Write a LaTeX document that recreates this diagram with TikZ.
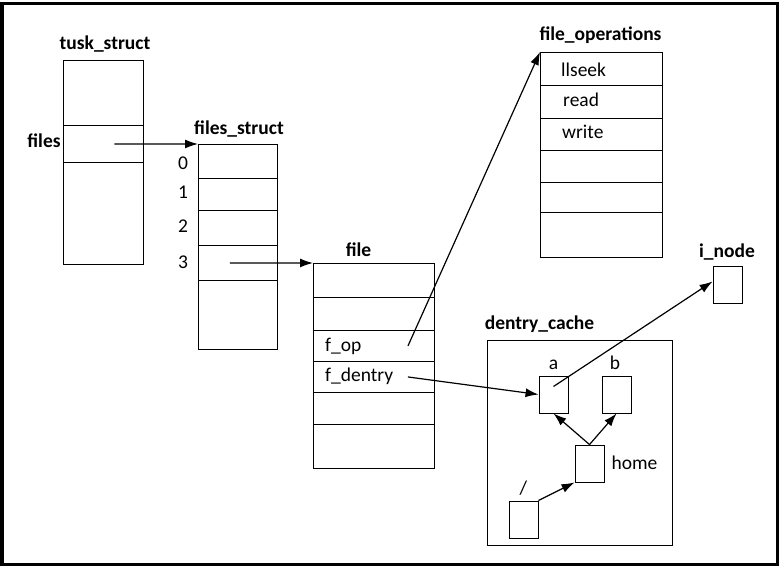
\documentclass[tikz,border=0pt]{standalone}
\usepackage{fontspec}
\setmainfont{Carlito}
\usetikzlibrary{arrows.meta}
\tikzset{
  cell/.style={draw, line width=0.9pt, anchor=north west, inner sep=0pt},
  box/.style={draw, line width=0.9pt, inner sep=0pt, minimum width=29, minimum height=37},
  lbl/.style={font=\fontsize{19.5}{22}\selectfont\bfseries, anchor=base, inner sep=0pt},
  tag/.style={anchor=base, inner sep=0pt},
  txt/.style={anchor=base west, inner sep=0pt},
  ptr/.style={line width=1.2pt, -{Latex[length=13pt,width=9pt]}}
}
\begin{document}
\begin{tikzpicture}[x=1pt, y=-1pt, font=\fontsize{19.5}{22}\selectfont]
\useasboundingbox (0,0) rectangle (781,569);
\draw[line width=3.5pt] (2,3.5) rectangle (777.5,564.5);
\foreach \i/\a/\b in {0/60/125,1/125/162,2/162/264}
  \node[cell, minimum width=80, minimum height=\b-\a] (ts\i) at (63,\a) {};
\foreach \i/\a/\b in {0/144/178,1/178/210,2/210/245,3/245/280,4/280/349}
  \node[cell, minimum width=79, minimum height=\b-\a] (fs\i) at (198,\a) {};
\foreach \i/\a/\b in {0/263/297,1/297/330,2/330/361,3/361/392,4/392/424,5/424/468}
  \node[cell, minimum width=121, minimum height=\b-\a] (fl\i) at (313,\a) {};
\foreach \i/\a/\b in {0/52/85,1/85/118,2/118/150,3/150/182,4/182/212,5/212/257}
  \node[cell, minimum width=122, minimum height=\b-\a] (fo\i) at (540,\a) {};
\node[draw, line width=0.9pt, minimum width=185, minimum height=205] (cache) at (579.5,442.5) {};
\node[box] (a) at (553.5,394.5) {};
\node[box] (b) at (616.5,394.5) {};
\node[box] (home) at (589.5,463.5) {};
\node[box] (slash) at (523.5,519.5) {};
\node[box] (inode) at (727.5,284.5) {};
\node[lbl] (tslbl) at (105,50) {tusk\_struct};
\node[lbl] (fileslbl) at (44,148) {files};
\node[lbl] (fslbl) at (239,135) {files\_struct};
\node[tag] (n0) at (183,170) {0};
\node[tag] (n1) at (183,199) {1};
\node[tag] (n2) at (183,233) {2};
\node[tag] (n3) at (183,269) {3};
\node[lbl] (fllbl) at (358.5,256) {file};
\node[txt] (fop) at (325,351.5) {f\_op};
\node[txt] (fdentry) at (325,381.5) {f\_dentry};
\node[lbl] (folbl) at (600.5,40.5) {file\_operations};
\node[txt] (llseek) at (561,77) {llseek};
\node[txt] (read) at (563,107) {read};
\node[txt] (write) at (562,139) {write};
\node[lbl] (cachelbl) at (539.5,329) {dentry\_cache};
\node[lbl] (inodelbl) at (727,258) {i\_node};
\node[tag] (alb) at (553.5,369) {a};
\node[tag] (blb) at (615,369) {b};
\node[tag] (homelb) at (634.5,469) {home};
\node[tag] (slashlb) at (523.5,494) {/};
\draw[ptr] ([xshift=11]ts1.center) -- (fs0.north west);
\draw[ptr] ([xshift=-8]fs3.center) -- (fl0.north west);
\draw[ptr] ([xshift=34]fl2.center) -- (fo0.north west);
\draw[ptr] ([xshift=34]fl3.center) -- (a.west);
\draw[ptr] ([yshift=8]a.center) -- ([yshift=3]inode.west);
\draw[ptr] (home.north) -- (a.south);
\draw[ptr] (home.north) -- (b.south);
\draw[ptr] (slash.north east) -- (home.south west);
\end{tikzpicture}
\end{document}
